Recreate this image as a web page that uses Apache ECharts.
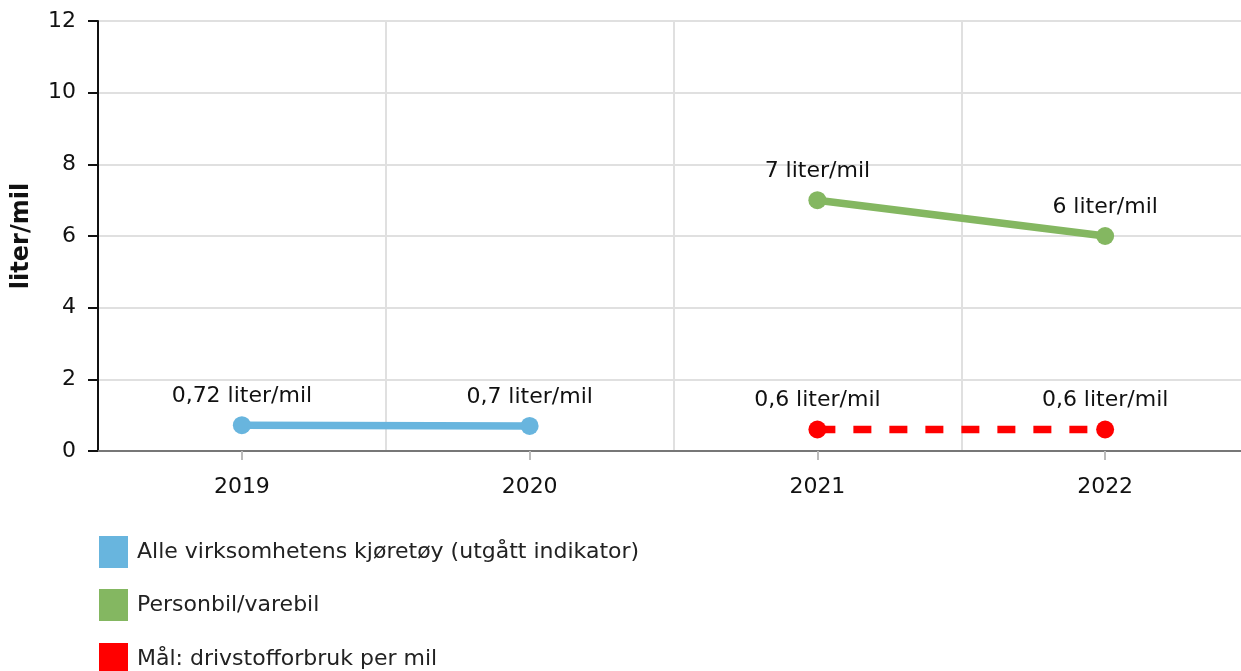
<!DOCTYPE html>
<html><head><meta charset="utf-8">
<script src="https://cdn.jsdelivr.net/npm/echarts@6/dist/echarts.min.js"></script>
<style>html,body{margin:0;padding:0;background:#fff;overflow:hidden;width:1241px;height:671px}#c{width:1249px;height:671px}</style>
</head><body><div id="c"></div>
<script>
const categories = ['2019', '2020', '2021', '2022'];
const seriesNames = ['Alle virksomhetens kjøretøy (utgått indikator)', 'Personbil/varebil', 'Mål: drivstofforbruk per mil'];
const alleValues = [0.72, 0.7, null, null];
const personbilValues = [null, null, 7, 6];
const maalValues = [null, null, 0.6, 0.6];
const yTicks = [0, 2, 4, 6, 8, 10, 12];
const unit = ' liter/mil';
const yName = 'liter/mil';

const FONT = 'DejaVu Sans';
const colors = ['#68b5de', '#84b761', '#ff0000'];
const fmt = p => String(p.value).replace('.', ',') + unit;

function mkSeries(name, data, color, dashed) {
  return {
    name, type: 'line', data, connectNulls: false,
    symbol: 'circle', symbolSize: 18,
    itemStyle: { color },
    lineStyle: { color, width: 7.5, type: dashed ? [18, 18] : 'solid' },
    label: { show: true, position: 'top', distance: 9, formatter: fmt,
      fontFamily: FONT, fontSize: 22, color: '#111' },
    emphasis: { disabled: true },
    animation: false
  };
}

const legendTops = [536, 589, 643];
const legends = seriesNames.map((n, i) => ({
  orient: 'vertical', left: 99, top: legendTops[i], padding: 0,
  itemWidth: 29, itemHeight: 32, icon: 'rect', selectedMode: false,
  textStyle: { fontFamily: FONT, fontSize: 22, color: '#222', padding: [0, 0, 0, 4] },
  data: [{ name: n, itemStyle: { color: colors[i], borderWidth: 0 } }]
}));

const chart = echarts.init(document.getElementById('c'), null, { renderer: 'canvas', width: 1249, height: 671 });
chart.setOption({
  animation: false,
  textStyle: { fontFamily: FONT },
  grid: { left: 98, right: 0, top: 21, bottom: 220, containLabel: false },
  xAxis: {
    type: 'category', data: categories, boundaryGap: true,
    axisLine: { lineStyle: { color: '#777', width: 2 } },
    axisTick: { show: true, alignWithLabel: true, length: 9, lineStyle: { color: '#bbb', width: 2 } },
    axisLabel: { margin: 25, fontFamily: FONT, fontSize: 22, color: '#111' },
    splitLine: { show: true, lineStyle: { color: '#e0e0e0', width: 2 } }
  },
  yAxis: {
    type: 'value', min: yTicks[0], max: yTicks[yTicks.length - 1], interval: 2,
    name: yName, nameLocation: 'middle', nameGap: 64, nameRotate: 90,
    nameTextStyle: { fontFamily: FONT, fontSize: 24, fontWeight: 'bold', color: '#111' },
    axisLine: { show: true, lineStyle: { color: '#111', width: 2 } },
    axisTick: { show: true, length: 10, lineStyle: { color: '#111', width: 2 } },
    axisLabel: { margin: 22, fontFamily: FONT, fontSize: 22, color: '#111' },
    splitLine: { show: true, lineStyle: { color: '#e0e0e0', width: 2 } }
  },
  legend: legends,
  series: [
    mkSeries(seriesNames[0], alleValues, colors[0], false),
    mkSeries(seriesNames[1], personbilValues, colors[1], false),
    mkSeries(seriesNames[2], maalValues, colors[2], true)
  ]
});
</script></body></html>
